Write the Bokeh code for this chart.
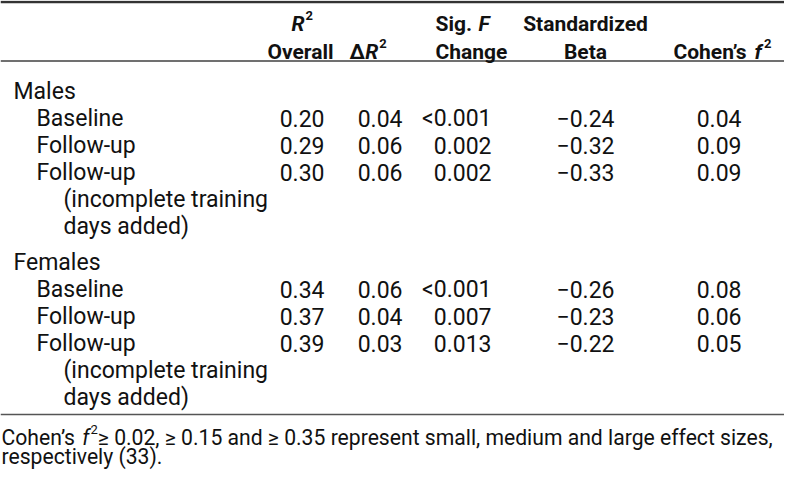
from bokeh.plotting import figure
from bokeh.models import Range1d, ColumnDataSource
from bokeh.embed import file_html
from bokeh.resources import INLINE
from bokeh.core.properties import value

# ---------------- data ----------------
groups = ["Males", "Females"]
row_labels = ["Baseline", "Follow-up", "Follow-up"]
note_lines = ["(incomplete training", "days added)"]
r2_overall = [[0.20, 0.29, 0.30], [0.34, 0.37, 0.39]]
delta_r2 = [[0.04, 0.06, 0.06], [0.06, 0.04, 0.03]]
sig_f_change = [["<0.001", "0.002", "0.002"], ["<0.001", "0.007", "0.013"]]
std_beta = [[-0.24, -0.32, -0.33], [-0.26, -0.23, -0.22]]
cohens_f2 = [[0.04, 0.09, 0.09], [0.08, 0.06, 0.05]]
footnote_1a = "Cohen\u2019s "
footnote_1b = " \u2265 0.02, \u2265 0.15 and \u2265 0.35 represent small, medium and large effect sizes,"
footnote_2 = "respectively (33)."

# ---------------- layout ----------------
W, H = 784, 470
X0, Y0 = 8, 8
FONT = value("Roboto")
INK = "#111111"

p = figure(width=W, height=H, output_backend="svg", toolbar_location=None,
           x_range=Range1d(X0, X0 + W), y_range=Range1d(Y0 + H, Y0),
           x_axis_location=None, y_axis_location=None,
           min_border=0, outline_line_color=None)
p.grid.visible = False
p.background_fill_color = "white"

# approximate Roboto advance widths (per em)
REG = {" ": .248, "\u2019": .196, "'": .156, "(": .342, ")": .348, ",": .196, "-": .276,
       ".": .263, "<": .508, "\u2265": .52, "\u2212": .57,
       "a": .544, "b": .561, "c": .523, "d": .564, "e": .529, "f": .348, "g": .561,
       "h": .551, "i": .243, "j": .239, "k": .507, "l": .243, "m": .877, "n": .552,
       "o": .570, "p": .561, "q": .568, "r": .338, "s": .515, "t": .327, "u": .551,
       "v": .484, "w": .751, "x": .496, "y": .473, "z": .484,
       "C": .652, "R": .616, "F": .554, "B": .622, "S": .594}
BOLD = {" ": .249, "\u2019": .21, ".": .275, "a": .544, "b": .561, "c": .523, "d": .563,
        "e": .542, "f": .352, "g": .565, "h": .556, "i": .254, "n": .556, "o": .570,
        "r": .351, "s": .527, "t": .335, "z": .496, "C": .652, "R": .624, "S": .607,
        "F": .563, "\u0394": .70}


def tw(s, size, bold=False):
    tab = BOLD if bold else REG
    return sum(tab.get(ch, .5615) for ch in s) * size


def put(x, y, s, size, style="normal", align="left"):
    p.text(x=[x], y=[y], text=[s], text_font=FONT, text_font_size=f"{size}px",
           text_font_style=style, text_align=align, text_baseline="alphabetic",
           text_color=INK)


# rules
p.segment(x0=[X0, X0, X0], x1=[X0 + W] * 3, y0=[9.5, 68.5, 422], y1=[9.5, 68.5, 422],
          line_color=["#333333", "#707070", "#555555"], line_width=[2.5, 2, 1.5])

# ---------------- header ----------------
HS = 21
hb1, hb2 = 31, 59
SUP = 13
# R^2 / Overall
rx = 299
put(rx, hb1, "R", HS, "bold italic")
put(rx + tw("R", HS, True) + 1, hb1 - 8, "2", SUP, "bold")
put(308, hb2, "Overall", HS, "bold", "center")
# Delta R^2
dx = 357
put(dx, hb2, "\u0394", HS, "bold")
rx2 = dx + tw("\u0394", HS, True) + 1
put(rx2, hb2, "R", HS, "bold italic")
put(rx2 + tw("R", HS, True) + 1, hb2 - 8, "2", SUP, "bold")
# Sig. F Change
sx = 443
put(sx, hb1, "Sig. ", HS, "bold")
put(sx + tw("Sig. ", HS, True) + 2, hb1, "F", HS, "bold italic")
put(sx, hb2, "Change", HS, "bold")
# Standardized Beta
put(593, hb1, "Standardized", HS, "bold", "center")
put(593, hb2, "Beta", HS, "bold", "center")
# Cohen's f^2
cx = 681
put(cx, hb2, "Cohen\u2019s ", HS, "bold")
fx = cx + tw("Cohen\u2019s ", HS, True)
put(fx, hb2, "f", HS, "bold italic")
put(fx + tw("f", HS, True) + 2, hb2 - 8, "2", SUP, "bold")

# ---------------- body ----------------
BS = 23
half_cap = 0.355 * BS
group_y = [91, 262]
row_y = [[118, 145, 172], [289, 316, 343]]
note_y = [[199, 226], [370, 397]]
col_right = [332, 410, 499, 622, 749]


def f2(v):
    return ("\u2212" if v < 0 else "") + f"{abs(v):.2f}"


lab = {"x": [], "y": [], "t": []}
cells = {"x": [], "y": [], "t": []}
for g, name in enumerate(groups):
    lab["x"].append(21); lab["y"].append(group_y[g] + half_cap); lab["t"].append(name)
    for r, rl in enumerate(row_labels):
        yb = row_y[g][r] + half_cap
        lab["x"].append(44); lab["y"].append(yb); lab["t"].append(rl)
        vals = [f2(r2_overall[g][r]), f2(delta_r2[g][r]), sig_f_change[g][r],
                f2(std_beta[g][r]), f2(cohens_f2[g][r])]
        for c, v in enumerate(vals):
            cells["x"].append(col_right[c]); cells["y"].append(yb); cells["t"].append(v)
    for k, nl in enumerate(note_lines):
        lab["x"].append(71); lab["y"].append(note_y[g][k] + half_cap); lab["t"].append(nl)

p.text(x="x", y="y", text="t", source=ColumnDataSource(lab), text_font=FONT,
       text_font_size=f"{BS}px", text_align="left", text_baseline="alphabetic",
       text_color=INK)
p.text(x="x", y="y", text="t", source=ColumnDataSource(cells), text_font=FONT,
       text_font_size=f"{BS}px", text_align="right", text_baseline="alphabetic",
       text_color=INK)

# ---------------- footnote ----------------
fx0 = 9
avail = X0 + W - 4 - fx0
fsup = 13
unit = tw(footnote_1a, 1) + tw("f", 1) + tw(footnote_1b, 1)
FS = min(22, (avail - 0.5615 * fsup - 3) / unit)
fb1, fb2 = 445, 464
put(fx0, fb1, footnote_1a, FS)
ffx = fx0 + tw(footnote_1a, FS)
put(ffx, fb1, "f", FS, "italic")
sx2 = ffx + tw("f", FS) + 1
put(sx2, fb1 - 8, "2", fsup)
put(sx2 + 0.5615 * fsup, fb1, footnote_1b, FS)
put(fx0, fb2, footnote_2, FS)

open("out.html", "w").write(file_html(p, INLINE))
